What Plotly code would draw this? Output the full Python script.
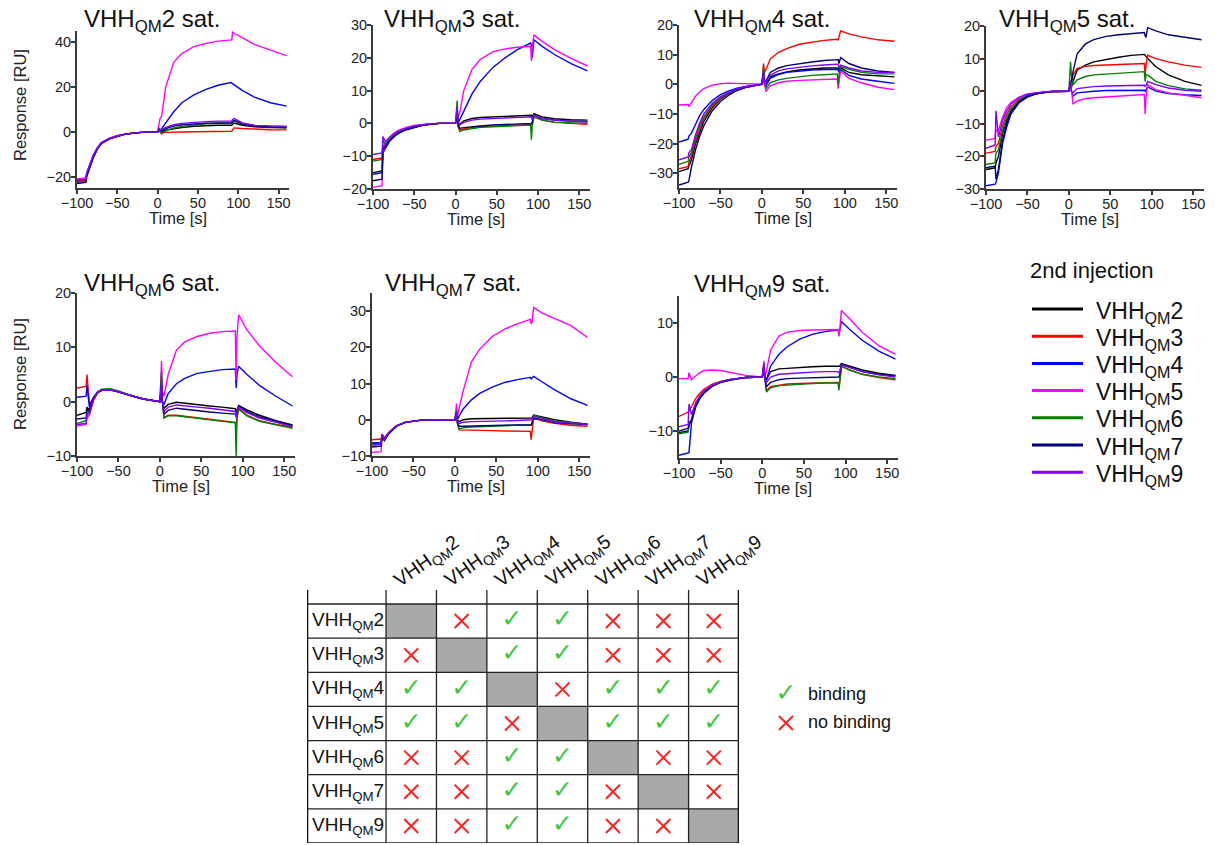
import plotly.graph_objects as go

W, H = 1215, 845
FONT = "Liberation Sans, Arial, sans-serif"

# ---------------- data ----------------
time_s = [-100, -89, -88, -85, -80, -75, -70, -60, -50, -40, -30, -20, 0, 2, 3, 5,
          10, 20, 30, 45, 60, 75, 91, 92, 93, 95, 105, 120, 140, 160]

second_injection = ["VHH<sub>QM</sub>2", "VHH<sub>QM</sub>3", "VHH<sub>QM</sub>4",
                    "VHH<sub>QM</sub>5", "VHH<sub>QM</sub>6", "VHH<sub>QM</sub>7",
                    "VHH<sub>QM</sub>9"]
line_colors = ["#000000", "#ff0000", "#0000ff", "#ff00ff", "#008000", "#000080", "#8000ff"]

panel_titles = ["VHH<sub>QM</sub>2 sat.", "VHH<sub>QM</sub>3 sat.", "VHH<sub>QM</sub>4 sat.",
                "VHH<sub>QM</sub>5 sat.", "VHH<sub>QM</sub>6 sat.", "VHH<sub>QM</sub>7 sat.",
                "VHH<sub>QM</sub>9 sat."]

# response [RU]; row order = 2nd injection VHHQM 2,3,4,5,6,7,9
resp_sat2 = [
    [-22, -21.5, -19, -16, -11, -7.5, -5, -3, -1.8, -1, -0.5, -0.2, 0, 1, 0.5, 0, 0.8, 1.5, 2, 2.5, 2.8, 3, 3, 3, 3.5, 4, 3, 2.3, 2, 1.8],
    [-22, -21.5, -19.5, -16.5, -11.5, -7.8, -5.2, -3.1, -1.9, -1, -0.5, -0.2, 0, 0.5, 0, -0.5, -0.2, 0, 0, 0.1, 0.2, 0.3, 0.3, 0.3, 1, 1.8, 1.5, 1.2, 1, 0.9],
    [-21.5, -21, -18.5, -15.5, -10.5, -7.2, -4.8, -2.9, -1.7, -1, -0.5, -0.2, 0, 1, 0.5, 1.5, 4.5, 9, 13, 16.5, 19, 20.8, 22, 21.8, 21.5, 21, 18.5, 15.5, 13, 11.5],
    [-21, -20.5, -18.5, -15.5, -10.5, -7.2, -4.8, -2.9, -1.7, -1, -0.5, -0.2, 0, 5, 6, 7, 20, 31, 35, 38, 39.5, 40.5, 41, 41, 44.5, 44, 42, 39, 36.5, 34],
    [-22.5, -22, -19.5, -16.5, -11.5, -7.8, -5.2, -3.1, -1.9, -1, -0.5, -0.2, 0, 1.5, 0, -0.8, 0.5, 1.8, 2.5, 3.2, 3.6, 3.9, 4, 4, 4.5, 5, 3.5, 2.6, 2.2, 2],
    [-23, -22.5, -20, -16.8, -11.5, -7.8, -5.2, -3.1, -1.9, -1, -0.5, -0.2, 0, 1.5, 0.8, 0.5, 1.5, 2.6, 3.2, 3.7, 3.9, 4, 4.1, 4.1, 4.5, 5.2, 3.6, 2.6, 2.2, 2],
    [-21.5, -21, -18.5, -15.8, -10.8, -7.4, -5, -3, -1.8, -1, -0.5, -0.2, 0, 1.5, 1, 1, 2, 3.2, 3.8, 4.3, 4.6, 4.8, 4.9, 4.9, 5.5, 6, 4, 3, 2.7, 2.5],
]
resp_sat3 = [
    [-15, -14.5, -7, -6.5, -5, -3.8, -2.8, -1.7, -1, -0.5, -0.2, 0, 0, 3, 0, -0.3, 0.8, 1.5, 1.8, 2, 2.2, 2.4, 2.5, 2.5, 2, 3, 2, 1.4, 1.1, 1],
    [-11, -10.5, -7, -6.5, -5, -3.8, -2.8, -1.7, -1, -0.5, -0.2, 0, 0, 3, -1, -2, -1.7, -1.2, -1, -0.8, -0.6, -0.4, -0.3, -0.3, -0.5, 2, 1, 0.3, 0, -0.3],
    [-15.5, -15, -9, -7.5, -5.5, -4.2, -3.2, -2, -1.2, -0.6, -0.3, 0, 0, 3, 0, 1, 4, 9, 12.8, 17, 20, 22.5, 24.5, 24, 20, 25.5, 23.5, 21, 18.2, 16],
    [-19.5, -19, -9, -6, -4.2, -3, -2.2, -1.2, -0.6, -0.3, -0.1, 0, 0, 4, 2, 3, 10, 16.5, 19.5, 21.8, 22.7, 23.2, 23.5, 19, 23, 27, 25, 22.5, 19.8, 17.5],
    [-11.5, -11, -5, -6.5, -5, -3.8, -2.8, -1.7, -1, -0.5, -0.2, 0, 0, 7, 1, -2.5, -2, -1.5, -1.2, -1, -0.8, -0.6, -0.5, -5, -0.5, 2, 1, 0.4, 0.1, 0],
    [-17.5, -17, -8, -7, -5.2, -4, -3, -1.8, -1.1, -0.6, -0.3, 0, 0, 3, -0.5, -1.5, -1.3, -1, -0.8, -0.5, -0.3, -0.1, 0, 0, 0.5, 2.5, 1.5, 1, 0.7, 0.5],
    [-9.5, -9, -4, -5.5, -4.3, -3.3, -2.5, -1.5, -0.8, -0.4, -0.2, 0, 0, 5, 1, -0.5, 0.3, 1, 1.3, 1.5, 1.7, 1.9, 2, 2, 1, 2.5, 1.5, 1, 0.7, 0.5],
]
resp_sat4 = [
    [-29.5, -28.5, -27.5, -25.5, -20, -16, -12.5, -8, -5, -3.2, -1.9, -1, 0, 4, 0.5, 0, 2.5, 3.5, 4.2, 4.8, 5.2, 5.5, 5.5, 5.3, 5, 5.5, 4, 3.2, 2.8, 2.5],
    [-28.5, -27.8, -26.5, -24, -19, -15, -11.5, -7.5, -4.8, -3.1, -1.8, -1, 0, 7, 4, 5, 8.5, 10.8, 12, 13.5, 14.2, 14.8, 15.2, 15, 16, 18, 17, 16, 15, 14.5],
    [-19.5, -18.5, -17.5, -16.5, -13.5, -10.5, -8.5, -5.5, -3.5, -2.2, -1.3, -0.7, 0, 4, 0, -0.5, 2, 3.3, 4, 4.5, 4.8, 5, 5.2, 5, 4, 5, 3, 1.8, 1, 0.3],
    [-7, -6.8, -7.5, -6, -4, -2.5, -1.5, -0.3, 0.2, 0.4, 0.3, 0, 0, 4, 0, -2.5, -0.5, 0.5, 1, 1.3, 1.5, 1.6, 1.8, -1.5, 1, 4.5, 2, 0.5, -1, -1.8],
    [-27, -26, -24.5, -23, -18, -14, -11, -7, -4.5, -2.9, -1.7, -0.9, 0, 6, 2, -1.5, 0.5, 1.5, 2, 2.5, 3, 3.2, 3.5, 0, 3, 6, 5, 4, 3.5, 3.5],
    [-34, -33, -32.5, -28, -22, -17.5, -14, -9, -5.8, -3.7, -2.1, -1.1, 0, 4, 1, 1, 4, 5.5, 6.3, 7, 7.5, 8, 8.5, 8.3, 7, 9, 7, 5.5, 4.5, 4],
    [-25.5, -24.5, -23, -22, -17, -13, -10, -6.5, -4.2, -2.7, -1.6, -0.9, 0, 4, 0.5, 0.5, 3, 4.5, 5.2, 5.8, 6.2, 6.5, 6.8, 6.5, 5.5, 6.5, 5.5, 4.5, 4, 4],
]
resp_sat5 = [
    [-24, -23.5, -22, -20, -13, -9, -6, -3, -1.5, -0.8, -0.4, -0.1, 0, 3, 1, 3, 6.5, 8, 9, 9.8, 10.4, 11, 11.3, 11, 10.5, 10, 7.5, 5, 3, 1.8],
    [-19, -18.5, -17, -16, -10.5, -7, -4.8, -2.5, -1.3, -0.6, -0.3, -0.1, 0, 3, 2, 5, 7, 7.6, 7.9, 8.1, 8.3, 8.4, 8.5, 5, 8, 11, 10, 9, 8, 7.3],
    [-29, -28.5, -28, -25, -16, -11, -7, -3.5, -1.8, -0.9, -0.4, -0.1, 0, 3, 0, -1.5, -0.5, -0.2, 0, 0.2, 0.3, 0.3, 0.3, 0, 0.5, 1.3, 0, -0.7, -1.1, -1.3],
    [-15, -14.5, -12, -12, -8, -5, -3.5, -1.8, -0.8, -0.4, -0.2, 0, 0, 3, 0, -4, -3, -2.3, -2, -1.7, -1.4, -1.2, -1, -7, -2, 2, 0.5, -0.5, -1.3, -2],
    [-22.5, -22, -19, -18, -12, -8, -5.5, -2.8, -1.4, -0.7, -0.3, -0.1, 0, 9, 5, 2, 3.5, 4.5, 5, 5.3, 5.6, 5.8, 6, 3, 5, 5, 3, 1.7, 0.7, 0.3],
    [-23.5, -23, -27, -24, -15, -10, -6.5, -3.2, -1.6, -0.8, -0.4, -0.1, 0, 3, 3, 6, 11.5, 14.5, 15.8, 16.8, 17.3, 17.7, 18, 17, 16.5, 19.5, 18.5, 17.3, 16.5, 15.8],
    [-17.5, -16.5, -6, -14, -9, -6, -4, -2, -1, -0.5, -0.3, -0.1, 0, 3, 0, -0.5, 0.8, 1.2, 1.4, 1.6, 1.7, 1.8, 1.8, 1.5, 1.8, 3, 2, 1, 0.3, 0],
]
resp_sat6 = [
    [-2.5, -2, -1, -1.5, 0.6, 1.7, 2.1, 2.2, 1.8, 1.3, 0.9, 0.5, 0, 3, 0, -1.2, -0.5, -0.1, -0.3, -0.6, -0.8, -1, -1.3, -2, -1.5, -0.7, -1.5, -2.5, -3.5, -4.3],
    [2.5, 2.8, 5, -0.5, 0.8, 1.8, 2.2, 2.2, 1.8, 1.3, 0.9, 0.5, 0, 3, 0, -3, -2.5, -2.5, -2.7, -3, -3.3, -3.6, -3.8, -5, -3, -1.2, -2.5, -3.5, -4.2, -4.7],
    [0.8, 1, 3, -1, 0.8, 1.8, 2.2, 2.2, 1.8, 1.3, 0.9, 0.5, 0, 3, 0, -0.5, 1.5, 3.3, 4.3, 5.2, 5.6, 5.9, 6, 2.5, 5, 6.5, 5, 3, 1, -0.8],
    [-4.5, -4.2, -3, -2.5, 0.3, 1.6, 2.1, 2.2, 1.8, 1.3, 0.9, 0.5, 0, 7.5, 2, 1, 5, 9.5, 11, 12, 12.6, 12.9, 13, 4, 12, 16, 13.2, 10.3, 7.2, 4.6],
    [-4, -3.5, -2, -2, 0.5, 1.8, 2.3, 2.4, 2, 1.4, 0.9, 0.5, 0, 5.5, 0, -3, -2.6, -2.6, -2.8, -3.1, -3.4, -3.7, -3.9, -10, -3, -1.4, -2.6, -3.6, -4.3, -4.9],
    [-3.2, -3, -1.5, -1.8, 0.5, 1.7, 2.1, 2.2, 1.8, 1.3, 0.9, 0.5, 0, 3, 0, -2.3, -1.6, -1.2, -1.4, -1.7, -1.9, -2.1, -2.3, -2.5, -2, -0.8, -1.8, -2.8, -3.6, -4.4],
    [-4.2, -4, -2.5, -2.2, 0.4, 1.7, 2.1, 2.2, 1.8, 1.3, 0.9, 0.5, 0, 4, 0, -1.8, -1, -0.6, -0.8, -1, -1.2, -1.5, -1.8, -3, -1.8, -1, -2, -3, -3.8, -4.6],
]
resp_sat7 = [
    [-6.5, -6.3, -4, -5.2, -3.6, -2.5, -1.6, -0.7, -0.3, -0.1, 0, 0, 0, 2, 0, -0.5, 0, 0.3, 0.3, 0.4, 0.4, 0.5, 0.5, 0.5, 0.5, 1.3, 0.8, 0, -0.7, -1.2],
    [-5.5, -5.3, -4, -5, -3.5, -2.5, -1.6, -0.7, -0.3, -0.1, 0, 0, 0, 2, -1, -2.8, -2.8, -2.8, -2.9, -3, -3.1, -3.2, -3.2, -5.5, -3, 0.5, -0.3, -1, -1.5, -1.8],
    [-6.5, -6.3, -4.5, -5.5, -3.7, -2.6, -1.7, -0.7, -0.3, -0.1, 0, 0, 0, 2, 0, 1, 3, 5.5, 7.3, 9, 10.3, 11.1, 11.7, 11.3, 11.5, 12, 10.5, 8.3, 5.8, 4],
    [-9, -8.8, -5, -5.5, -3.8, -2.6, -1.6, -0.7, -0.3, -0.1, 0, 0, 0, 4.5, 1, 3, 8, 16, 19.5, 23, 25, 26.5, 27.7, 26.5, 27, 31, 29.5, 28, 26, 22.7],
    [-7, -6.8, -4.5, -5.5, -3.7, -2.6, -1.7, -0.7, -0.3, -0.1, 0, 0, 0, 2.5, -1, -2.5, -2.2, -2, -1.9, -1.7, -1.6, -1.5, -1.5, -1.5, -1, 1.3, 0.5, -0.3, -0.8, -1.2],
    [-7.5, -7.3, -5, -5.8, -3.9, -2.7, -1.7, -0.8, -0.3, -0.1, 0, 0, 0, 2, -0.5, -1.8, -1.8, -1.7, -1.6, -1.5, -1.5, -1.4, -1.4, -1.4, -1, 0.5, 0, -0.8, -1.1, -1.3],
    [-7, -6.8, -4, -5.3, -3.6, -2.5, -1.6, -0.7, -0.3, -0.1, 0, 0, 0, 2, -0.5, -1, -0.7, -0.5, -0.4, -0.3, -0.3, -0.2, -0.2, -0.2, 0, 1, 0.3, -0.5, -1, -1.3],
]
resp_sat9 = [
    [-10.3, -10, -9, -8, -5.2, -3.8, -2.8, -1.6, -0.9, -0.5, -0.3, -0.1, 0, 2, 0, -0.5, 1, 1.5, 1.6, 1.8, 1.9, 2, 2, 2, 2, 2.5, 2, 1.3, 0.7, 0.3],
    [-7.3, -6.5, -6, -5.5, -4, -3, -2.3, -1.3, -0.8, -0.5, -0.3, -0.1, 0, 2, 0, -2.5, -1.8, -1.5, -1.3, -1.2, -1.1, -1, -1, -1.2, -1, 2, 1.3, 0.5, -0.1, -0.5],
    [-14.5, -14, -14, -8.5, -5.6, -4, -3, -1.7, -1, -0.6, -0.3, -0.1, 0, 2, -0.5, -0.5, 2, 4.2, 5.6, 7, 7.9, 8.4, 8.7, 8.7, 8.7, 10.3, 8.8, 6.8, 4.8, 3.3],
    [-0.3, -0.3, 0.8, -0.5, 0.2, 0.8, 1.2, 1.3, 1.2, 0.9, 0.6, 0.3, 0, 3, 0, 1, 5, 7.6, 8.3, 8.6, 8.7, 8.8, 8.8, 7.5, 8.5, 12.3, 10.8, 8.3, 5.8, 4.2],
    [-10.5, -10.2, -8.5, -8, -5.3, -3.8, -2.8, -1.6, -0.9, -0.5, -0.3, -0.1, 0, 2.5, 0, -2.8, -2, -1.6, -1.5, -1.3, -1.2, -1.1, -1.1, -2.5, -1, 2, 1.3, 0.5, 0, -0.3],
    [-10, -9.5, -8.5, -8, -5.4, -3.9, -2.9, -1.7, -1, -0.6, -0.3, -0.1, 0, 2, 0, -1.8, -1, -0.5, -0.3, -0.2, -0.1, 0, 0, 0, 0.3, 2.3, 1.8, 1, 0.5, 0.2],
    [-9.2, -8.8, -5, -7, -4.8, -3.5, -2.6, -1.5, -0.9, -0.5, -0.3, -0.1, 0, 2.5, 0, -1, 0, 0.5, 0.6, 0.8, 0.9, 1, 1, 0.8, 1, 2.3, 1.8, 1, 0.4, 0],
]

x_ticks = [-100, -50, 0, 50, 100, 150]
y_ranges = [[-25, 45], [-20, 30], [-35, 20], [-30, 20], [-10, 20], [-10, 35], [-15, 15]]
y_dticks = [20, 10, 10, 10, 10, 10, 10]

# competition table: 1 = binding, 0 = no binding, None = same VHH (diagonal)
table_labels = second_injection
binding = [
    [None, 0, 1, 1, 0, 0, 0],
    [0, None, 1, 1, 0, 0, 0],
    [1, 1, None, 0, 1, 1, 1],
    [1, 1, 0, None, 1, 1, 1],
    [0, 0, 1, 1, None, 0, 0],
    [0, 0, 1, 1, 0, None, 0],
    [0, 0, 1, 1, 0, 0, None],
]
key_labels = ["binding", "no binding"]

# ---------------- layout (pixel boxes) ----------------
boxes = [(77, 289, 31, 188), (373, 590, 25, 189), (679, 897, 25, 188), (986, 1204, 26, 189),
         (77, 295, 293, 456), (372, 590, 293, 456), (679, 898, 296, 458)]
panel_data = [resp_sat2, resp_sat3, resp_sat4, resp_sat5, resp_sat6, resp_sat7, resp_sat9]
title_cx = [152, 452, 762, 1067, 152, 453, 762]
title_top = [3, 3, 3, 3, 267, 267, 268]


def fx(p):
    return p / W


def fy(p):
    return 1 - p / H


AX = "#3a3a3a"
axis_common = dict(showline=True, linecolor=AX, linewidth=1.8, ticks="outside", ticklen=4,
                   tickwidth=1.5, tickcolor=AX, showgrid=False, zeroline=False, automargin=False,
                   ticklabelstandoff=-3,
                   tickfont=dict(family=FONT, size=14.5, color="#222222"))

fig = go.Figure()
annotations = []
shapes = []
layout_axes = {}

for i, (data, box) in enumerate(zip(panel_data, boxes), start=1):
    xa = "x" if i == 1 else f"x{i}"
    ya = "y" if i == 1 else f"y{i}"
    for k, series in enumerate(data):
        fig.add_trace(go.Scatter(x=time_s, y=series, mode="lines",
                                 line=dict(color=line_colors[k], width=1.4),
                                 xaxis=xa, yaxis=ya, showlegend=False, hoverinfo="skip"))
    x0, x1, yt, yb = box
    key = "" if i == 1 else str(i)
    layout_axes["xaxis" + key] = dict(domain=[fx(x0), fx(x1)], range=[-100, 163], anchor=ya,
                                      tickvals=x_ticks, **axis_common)
    layout_axes["yaxis" + key] = dict(domain=[fy(yb), fy(yt)], range=y_ranges[i - 1], anchor=xa,
                                      dtick=y_dticks[i - 1], tick0=0, **axis_common)
    annotations.append(dict(text=panel_titles[i - 1], xref="paper", yref="paper",
                            x=fx(title_cx[i - 1]), y=fy(title_top[i - 1]),
                            xanchor="center", yanchor="top", showarrow=False,
                            font=dict(family=FONT, size=24, color="#111111")))
    annotations.append(dict(text="Time [s]", xref=xa, yref="paper",
                            x=25, y=fy(yb + 30), xanchor="center",
                            yanchor="middle", showarrow=False,
                            font=dict(family=FONT, size=16.5, color="#222222")))

for yc in (105, 374):
    annotations.append(dict(text="Response [RU]", xref="paper", yref="paper", x=fx(20), y=fy(yc),
                            textangle=-90, xanchor="center", yanchor="middle", showarrow=False,
                            font=dict(family=FONT, size=16.5, color="#222222")))

# ---------------- 2nd injection legend ----------------
annotations.append(dict(text="2nd injection", xref="paper", yref="paper", x=fx(1028), y=fy(270),
                        xanchor="left", yanchor="middle", showarrow=False,
                        font=dict(family=FONT, size=22, color="#111111")))
for k, (name, col) in enumerate(zip(second_injection, line_colors)):
    ly = 309 + 27.2 * k
    shapes.append(dict(type="line", xref="paper", yref="paper", x0=fx(1032), x1=fx(1083),
                       y0=fy(ly), y1=fy(ly), line=dict(color=col, width=3)))
    annotations.append(dict(text=name, xref="paper", yref="paper", x=fx(1094), y=fy(ly + 3),
                            xanchor="left", yanchor="middle", showarrow=False,
                            font=dict(family=FONT, size=23, color="#111111")))

# ---------------- table ----------------
LBLW = 79 / 50.4
TOPEXT = 0.41
layout_axes["xaxis8"] = dict(domain=[fx(307), fx(739)], range=[-LBLW, 7], visible=False,
                             anchor="y8", fixedrange=True, automargin=False)
layout_axes["yaxis8"] = dict(domain=[fy(843), fy(590)], range=[7, -TOPEXT], visible=False,
                             anchor="x8", fixedrange=True, automargin=False)
GRAY = "#a9a9a9"
n = len(table_labels)
for i in range(n):
    for j in range(n):
        if binding[i][j] is None:
            shapes.append(dict(type="rect", xref="x8", yref="y8", x0=j, x1=j + 1, y0=i, y1=i + 1,
                               fillcolor=GRAY, line=dict(width=0), layer="below"))
for r in range(n + 1):
    shapes.append(dict(type="line", xref="x8", yref="y8", x0=-LBLW, x1=n, y0=r, y1=r,
                       line=dict(color="#222222", width=1.3)))
for c in range(n):
    shapes.append(dict(type="line", xref="x8", yref="y8", x0=c, x1=c, y0=-TOPEXT, y1=n,
                       line=dict(color="#222222", width=1.3)))
for xe in (-LBLW, n):
    shapes.append(dict(type="line", xref="x8", yref="y8", x0=xe, x1=xe, y0=-TOPEXT, y1=n,
                       line=dict(color="#111111", width=2.6)))

chk_x, chk_y, crs_x, crs_y = [], [], [], []
for i in range(n):
    for j in range(n):
        v = binding[i][j]
        if v == 1:
            chk_x.append(j + 0.5); chk_y.append(i + 0.5)
        elif v == 0:
            crs_x.append(j + 0.5); crs_y.append(i + 0.5)

GREEN = "#3cc83c"
RED = "#ff2222"
fig.add_trace(go.Scatter(x=chk_x, y=chk_y, mode="text", text=["✓"] * len(chk_x),
                         textfont=dict(family="DejaVu Sans", size=25, color=GREEN),
                         xaxis="x8", yaxis="y8", showlegend=False, hoverinfo="skip"))
fig.add_trace(go.Scatter(x=crs_x, y=crs_y, mode="markers",
                         marker=dict(symbol="x-thin", size=14, line=dict(width=2, color=RED)),
                         xaxis="x8", yaxis="y8", showlegend=False, hoverinfo="skip"))

for i, lab in enumerate(table_labels):
    annotations.append(dict(text=lab, xref="x8", yref="y8", x=-LBLW + 0.05, y=i + 0.5,
                            xanchor="left", yanchor="middle", showarrow=False,
                            font=dict(family=FONT, size=19, color="#111111")))
    annotations.append(dict(text=lab, xref="x8", yref="y8", x=i + 0.02, y=-TOPEXT + 0.18,
                            xanchor="left", yanchor="bottom", showarrow=False, textangle=-35,
                            font=dict(family=FONT, size=19.5, color="#111111")))

# key
layout_axes["xaxis9"] = dict(domain=[fx(770), fx(920)], range=[770, 920], visible=False,
                             anchor="y9", fixedrange=True, automargin=False)
layout_axes["yaxis9"] = dict(domain=[fy(740), fy(675)], range=[740, 675], visible=False,
                             anchor="x9", fixedrange=True, automargin=False)
fig.add_trace(go.Scatter(x=[786], y=[695], mode="text", text=["✓"],
                         textfont=dict(family="DejaVu Sans", size=25, color=GREEN),
                         xaxis="x9", yaxis="y9", showlegend=False, hoverinfo="skip"))
fig.add_trace(go.Scatter(x=[786], y=[723], mode="markers",
                         marker=dict(symbol="x-thin", size=14, line=dict(width=2, color=RED)),
                         xaxis="x9", yaxis="y9", showlegend=False, hoverinfo="skip"))
for lab, yk in zip(key_labels, (694, 722)):
    annotations.append(dict(text=lab, xref="x9", yref="y9", x=806, y=yk, xanchor="left",
                            yanchor="middle", showarrow=False,
                            font=dict(family=FONT, size=18, color="#111111")))

fig.update_layout(width=W, height=H, margin=dict(l=0, r=0, t=0, b=0, pad=0), autosize=False,
                  paper_bgcolor="white", plot_bgcolor="white", showlegend=False,
                  annotations=annotations, shapes=shapes, **layout_axes)

fig.write_html("out.html")
